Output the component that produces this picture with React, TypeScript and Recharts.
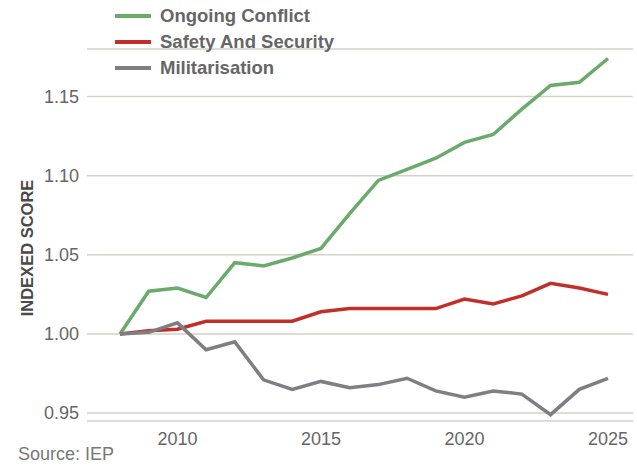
import React from 'react';
import { LineChart, Line, XAxis, YAxis, CartesianGrid } from 'recharts';

const years = [2008, 2009, 2010, 2011, 2012, 2013, 2014, 2015, 2016, 2017, 2018, 2019, 2020, 2021, 2022, 2023, 2024, 2025];
const ongoingConflict = [1.0, 1.027, 1.029, 1.023, 1.045, 1.043, 1.048, 1.054, 1.076, 1.097, 1.104, 1.111, 1.121, 1.126, 1.142, 1.157, 1.159, 1.174];
const safetySecurity = [1.0, 1.002, 1.003, 1.008, 1.008, 1.008, 1.008, 1.014, 1.016, 1.016, 1.016, 1.016, 1.022, 1.019, 1.024, 1.032, 1.029, 1.025];
const militarisation = [1.0, 1.001, 1.007, 0.99, 0.995, 0.971, 0.965, 0.97, 0.966, 0.968, 0.972, 0.964, 0.96, 0.964, 0.962, 0.949, 0.965, 0.972];
const yTicks = [0.95, 1.0, 1.05, 1.1, 1.15];
const xTicks = [2010, 2015, 2020, 2025];

const series = [
  { key: 'conflict', name: 'Ongoing Conflict', color: '#6aaa6a', values: ongoingConflict },
  { key: 'safety', name: 'Safety And Security', color: '#c22f29', values: safetySecurity },
  { key: 'militarisation', name: 'Militarisation', color: '#7f7f83', values: militarisation },
];

const data = years.map((year, i) => ({
  year,
  conflict: ongoingConflict[i],
  safety: safetySecurity[i],
  militarisation: militarisation[i],
}));

const font = '"Liberation Sans", Arial, Helvetica, sans-serif';

const App: React.FC = () => {
  return (
    <div style={{ position: 'relative', width: 637, height: 468, fontFamily: font, background: '#fff' }}>
      <style>{`body{margin:0}`}</style>
      <LineChart width={637} height={468} data={data} margin={{ top: 49, right: 4, bottom: 0, left: 0 }}>
        <CartesianGrid vertical={false} stroke="#d2d2c8" strokeWidth={1.5} />
        <XAxis
          dataKey="year"
          type="number"
          domain={[2008, 2025]}
          ticks={xTicks}
          padding={{ left: 33, right: 25 }}
          axisLine={false}
          tickLine={false}
          height={47}
          tickMargin={5}
          tick={{ fill: '#666', fontSize: 18, fontFamily: font }}
        />
        <YAxis
          type="number"
          domain={[0.945, 1.18]}
          ticks={yTicks}
          width={87}
          axisLine={false}
          tickLine={false}
          tickFormatter={(v: number) => v.toFixed(2)}
          tick={{ fill: '#666', fontSize: 18, fontFamily: font }}
          label={{
            content: () => (
              <text
                x={27}
                y={248}
                transform="rotate(-90 27 248)"
                textAnchor="middle"
                dominantBaseline="central"
                fill="#4a4a4a"
                fontSize={16.5}
                fontWeight="bold"
                fontFamily={font}
              >
                INDEXED SCORE
              </text>
            ),
          }}
        />
        {series.map((s) => (
          <Line
            key={s.key}
            type="linear"
            dataKey={s.key}
            name={s.name}
            stroke={s.color}
            strokeWidth={3.5}
            dot={false}
            isAnimationActive={false}
          />
        ))}
      </LineChart>
      <div style={{ position: 'absolute', left: 115, top: 3 }}>
        {series.map((s) => (
          <div key={s.key} style={{ display: 'flex', alignItems: 'center', height: 26 }}>
            <div style={{ width: 36, height: 4, background: s.color, marginRight: 9 }} />
            <span style={{ color: '#666', fontWeight: 'bold', fontSize: 18.5 }}>{s.name}</span>
          </div>
        ))}
      </div>
      <div style={{ position: 'absolute', left: 18, top: 444, color: '#777', fontSize: 18 }}>Source: IEP</div>
    </div>
  );
};

export default App;
